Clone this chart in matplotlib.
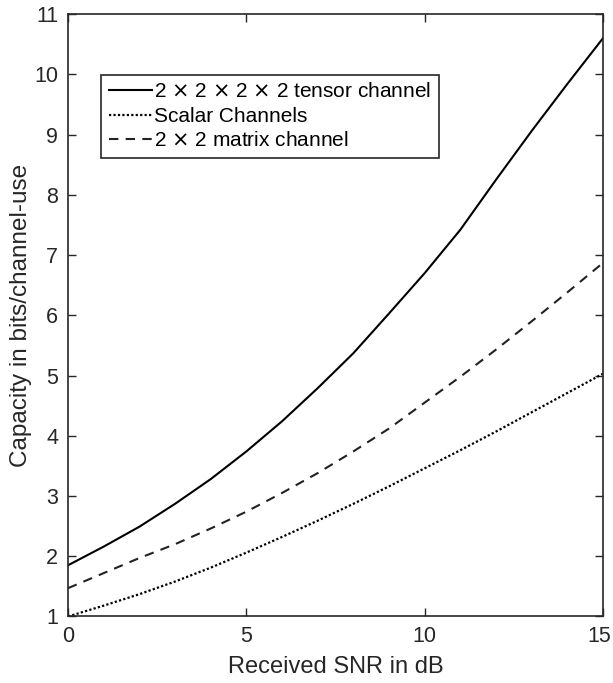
import matplotlib.pyplot as plt
import matplotlib.transforms as mtransforms
import numpy as np

plt.rcParams['font.family'] = ['Liberation Sans', 'DejaVu Sans']

# SNR points (dB)
snr_db = [0, 1, 2, 3, 4, 5, 6, 7, 8, 9, 10, 11, 12, 13, 14, 15]

# capacities (bits/channel-use)
tensor_cap = [1.85, 2.16, 2.49, 2.87, 3.28, 3.74, 4.24, 4.79, 5.37, 6.03,
              6.70, 7.42, 8.25, 9.06, 9.84, 10.6]
scalar_cap = [1.0, 1.18, 1.37, 1.58, 1.81, 2.06, 2.32, 2.59, 2.87, 3.16,
              3.46, 3.76, 4.07, 4.39, 4.71, 5.03]
matrix_cap = [1.47, 1.72, 1.97, 2.20, 2.46, 2.74, 3.05, 3.38, 3.74, 4.12,
              4.55, 4.98, 5.43, 5.90, 6.38, 6.87]

labels = [r'2 $\times$ 2 $\times$ 2 $\times$ 2 tensor channel',
          'Scalar Channels',
          r'2 $\times$ 2 matrix channel']

x_ticks = [0, 5, 10, 15]
y_ticks = list(range(1, 12))

fig = plt.figure(figsize=(6.13, 6.83), dpi=100)
ax = fig.add_axes([0.111, 0.0974, 0.8727, 0.882])

ax.plot(snr_db, tensor_cap, color='black', lw=1.5, label=labels[0])
ax.plot(snr_db, scalar_cap, color='black', lw=1.6, linestyle=(0, (1, 1)),
        label=labels[1])
ax.plot(snr_db, matrix_cap, color='#222222', lw=1.5, linestyle=(0, (4.5, 3.5)),
        label=labels[2])

ax.set_xlim(0, 15)
ax.set_ylim(1, 11)
ax.set_xticks(x_ticks)
ax.set_yticks(y_ticks)
ax.tick_params(direction='in', top=True, right=True, length=6, width=1,
               labelsize=15.5, colors='#262626', pad=7)
for s in ax.spines.values():
    s.set_linewidth(1.2)
    s.set_color('#262626')

# nudge the last x label so it stays inside the figure
last = ax.get_xticklabels()[-1]
last.set_transform(last.get_transform() +
                   mtransforms.ScaledTranslation(-3 / 72, 0, fig.dpi_scale_trans))

ax.set_xlabel('Received SNR in dB', fontsize=17, color='#262626', labelpad=6)
ax.set_ylabel('Capacity in bits/channel-use', fontsize=17.5, color='#262626',
              labelpad=2)

leg = ax.legend(loc='upper left', bbox_to_anchor=(0.062, 0.899), fontsize=15,
                frameon=True, fancybox=False, framealpha=1, edgecolor='#262626',
                handlelength=2.1, handletextpad=0.1, borderpad=0.35,
                labelspacing=0.27, borderaxespad=0)
leg.get_frame().set_linewidth(1.2)

fig.savefig('out.png', dpi=100)
